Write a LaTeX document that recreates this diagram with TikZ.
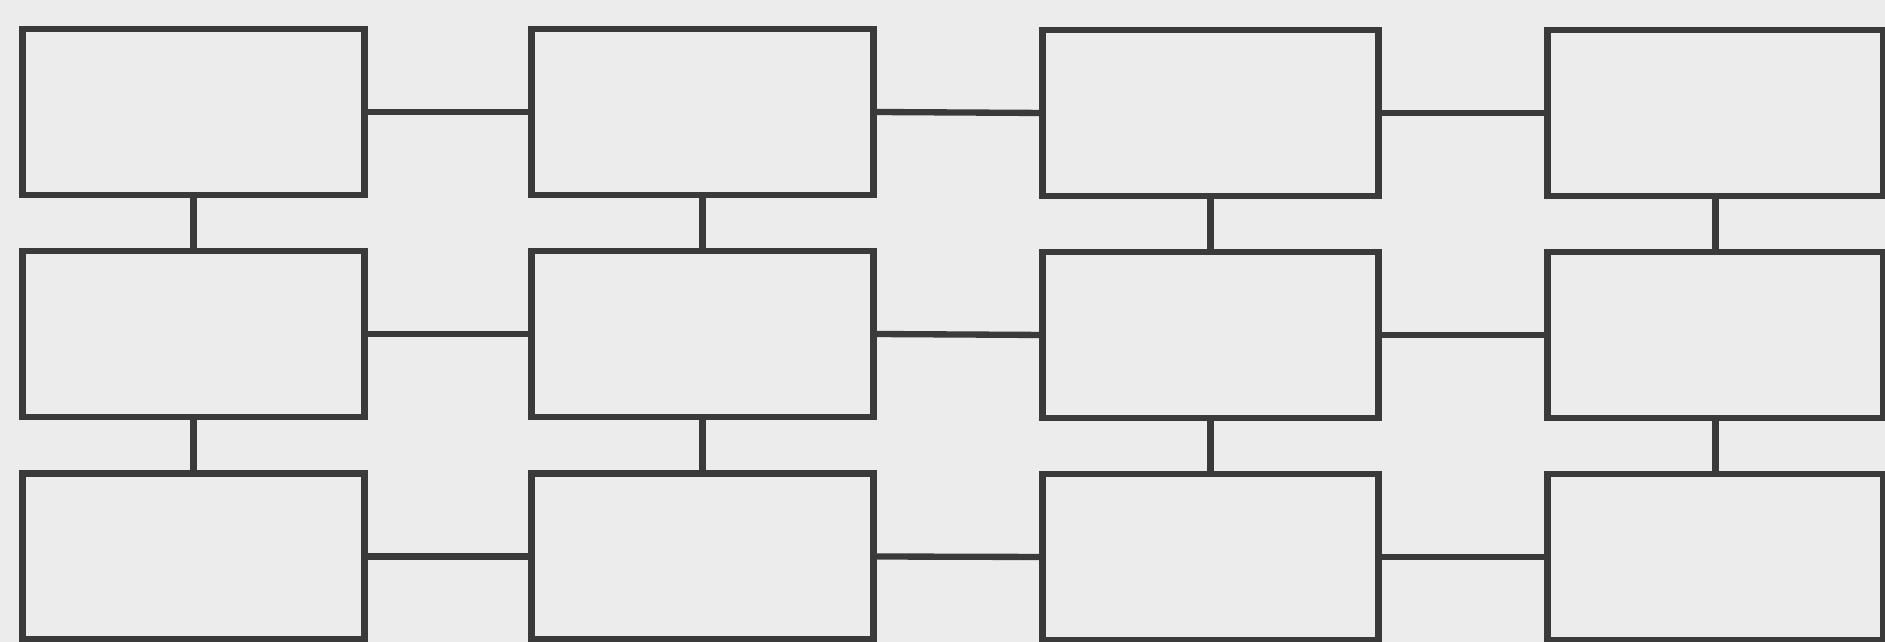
\documentclass[tikz,border=0pt]{standalone}
\definecolor{paper}{RGB}{236,236,236}
\definecolor{ink}{RGB}{58,58,58}
\tikzset{
  box/.style={draw=ink, fill=paper, line width=1.8pt, rectangle, inner sep=0pt, outer sep=0pt, minimum height=1.66cm},
  wideA/.style={minimum width=3.42cm},
  wideB/.style={minimum width=3.36cm},
  link/.style={draw=ink, line width=1.8pt}
}
\begin{document}
\begin{tikzpicture}
\useasboundingbox (0,0) rectangle (18.85,6.42);
\fill[paper] (0,0) rectangle (18.85,6.42);
% row 1
\node[box,wideA] (a1) at (1.935,5.30) {};
\node[box,wideA] (b1) at (7.025,5.30) {};
\node[box,wideB] (c1) at (12.105,5.29) {};
\node[box,wideB] (d1) at (17.155,5.29) {};
% row 2
\node[box,wideA] (a2) at (1.935,3.08) {};
\node[box,wideA] (b2) at (7.025,3.08) {};
\node[box,wideB] (c2) at (12.105,3.07) {};
\node[box,wideB] (d2) at (17.155,3.07) {};
% row 3
\node[box,wideA] (a3) at (1.935,0.855) {};
\node[box,wideA] (b3) at (7.025,0.855) {};
\node[box,wideB] (c3) at (12.105,0.85) {};
\node[box,wideB] (d3) at (17.155,0.85) {};
% horizontal connectors
\foreach \r in {1,2,3}{
  \draw[link] (a\r.east) -- (b\r.west);
  \draw[link] (b\r.east) -- (c\r.west);
  \draw[link] (c\r.east) -- (d\r.west);
}
% vertical connectors
\foreach \c in {a,b,c,d}{
  \draw[link] (\c1.south) -- (\c2.north);
  \draw[link] (\c2.south) -- (\c3.north);
}
\end{tikzpicture}
\end{document}
